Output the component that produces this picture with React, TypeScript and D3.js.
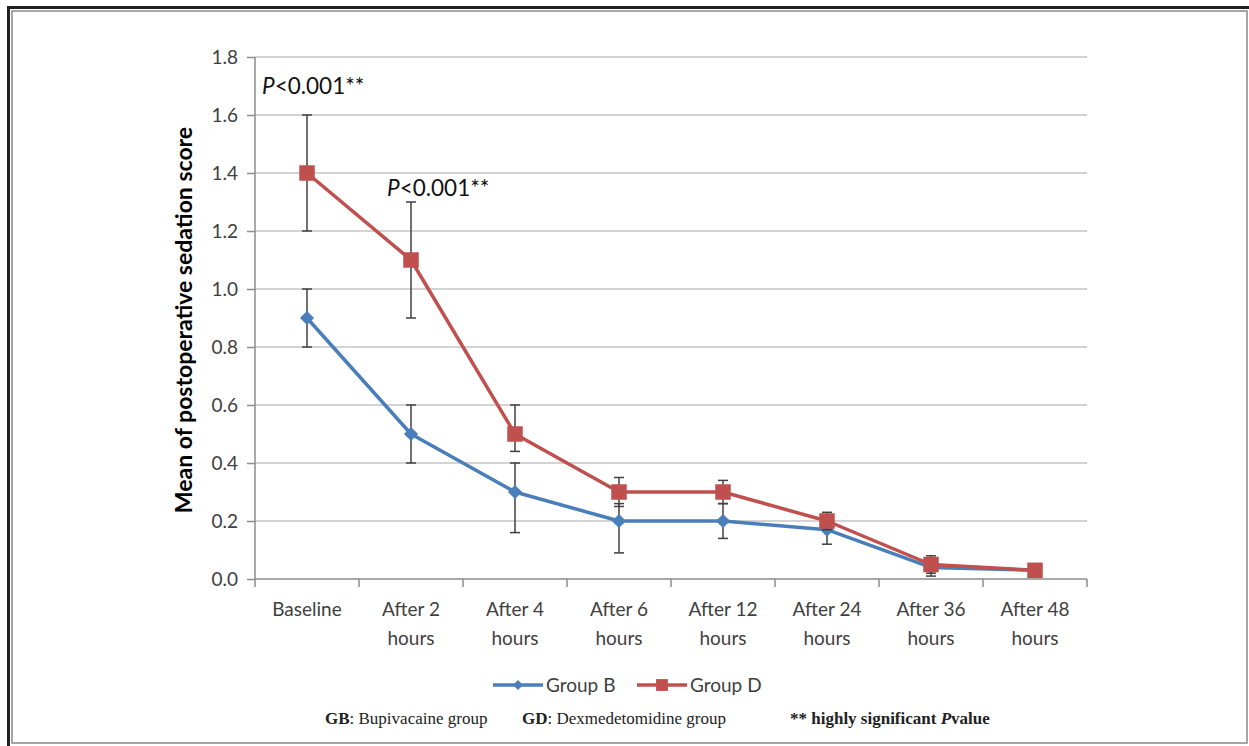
import { useEffect, useRef } from 'react';
import * as d3 from 'd3';

const categories = [
  ['Baseline'],
  ['After 2', 'hours'],
  ['After 4', 'hours'],
  ['After 6', 'hours'],
  ['After 12', 'hours'],
  ['After 24', 'hours'],
  ['After 36', 'hours'],
  ['After 48', 'hours'],
];

const groupB = [0.9, 0.5, 0.3, 0.2, 0.2, 0.17, 0.04, 0.03];
const groupBLow = [0.8, 0.4, 0.16, 0.09, 0.14, 0.12, 0.01, 0.03];
const groupBHigh = [1.0, 0.6, 0.4, 0.26, 0.26, 0.21, 0.07, 0.03];

const groupD = [1.4, 1.1, 0.5, 0.3, 0.3, 0.2, 0.05, 0.03];
const groupDLow = [1.2, 0.9, 0.44, 0.25, 0.26, 0.17, 0.02, 0.03];
const groupDHigh = [1.6, 1.3, 0.6, 0.35, 0.34, 0.23, 0.08, 0.03];

const yTicks = [0, 0.2, 0.4, 0.6, 0.8, 1.0, 1.2, 1.4, 1.6, 1.8];

const annotations = [
  { cat: 0, value: 1.7, text: '<0.001**' },
  { cat: 1, value: 1.35, text: '<0.001**' },
];

const BLUE = '#4a7ebb';
const RED = '#c0504d';
const FONT = 'Lato, "Open Sans", sans-serif';

const App = () => {
  const ref = useRef<HTMLDivElement>(null);

  useEffect(() => {
    d3.select(ref.current).selectAll('*').remove();

    const width = 1249; const height = 746;
    const left = 255; const right = 1087; const top = 57; const bottom = 579;

    const svg = d3.select(ref.current)
      .append('svg')
      .attr('width', width)
      .attr('height', height)
      .style('position', 'absolute')
      .style('left', '0px')
      .style('top', '0px')
      .style('background', '#fff');

    // frame
    svg.append('rect').attr('x', 8.5).attr('y', 7.5).attr('width', 1250).attr('height', 745)
      .attr('fill', 'none').attr('stroke', '#222').attr('stroke-width', 3);
    svg.append('rect').attr('x', 12).attr('y', 11).attr('width', 1235).attr('height', 732)
      .attr('fill', 'none').attr('stroke', '#888').attr('stroke-width', 1.5);

    const xBand = d3.scaleBand<number>()
      .domain(d3.range(categories.length))
      .range([left, right]);
    const x = (i: number) => (xBand(i) as number) + xBand.bandwidth() / 2;

    const y = d3.scaleLinear().domain([0, 1.8]).range([bottom, top]);

    // gridlines
    svg.append('g')
      .selectAll('line')
      .data(yTicks.filter(t => t > 0))
      .enter()
      .append('line')
      .attr('x1', left).attr('x2', right)
      .attr('y1', d => y(d)).attr('y2', d => y(d))
      .attr('stroke', '#c4c4c4').attr('stroke-width', 1.5);

    // y axis
    svg.append('g')
      .attr('transform', `translate(${left},0)`)
      .call(d3.axisLeft(y).tickValues(yTicks).tickSize(8).tickPadding(9).tickFormat(d3.format('.1f')))
      .call(g => g.selectAll('line, path').attr('stroke', '#8c8c8c').attr('stroke-width', 1.5))
      .call(g => g.select('.domain').attr('d', `M0,${top}V${bottom}`))
      .call(g => g.selectAll('text').attr('font-family', FONT).attr('font-size', 19).attr('fill', '#404040'));

    // x axis
    const boundaries = d3.range(categories.length + 1).map(i => left + i * xBand.bandwidth());
    svg.append('line').attr('x1', left).attr('x2', right).attr('y1', bottom).attr('y2', bottom)
      .attr('stroke', '#8c8c8c').attr('stroke-width', 1.5);
    svg.append('g').selectAll('line').data(boundaries).enter().append('line')
      .attr('x1', d => d).attr('x2', d => d).attr('y1', bottom).attr('y2', bottom + 8)
      .attr('stroke', '#8c8c8c').attr('stroke-width', 1.5);

    const labels = svg.append('g').selectAll('text').data(categories).enter().append('text')
      .attr('text-anchor', 'middle')
      .attr('font-family', FONT).attr('font-size', 19).attr('fill', '#404040');
    labels.each(function (d, i) {
      d.forEach((line, j) => {
        d3.select(this).append('tspan').attr('x', x(i)).attr('y', 616 + j * 29).text(line);
      });
    });

    // y title
    svg.append('text')
      .attr('transform', `translate(192,${(top + bottom) / 2 + 2}) rotate(-90)`)
      .attr('text-anchor', 'middle')
      .attr('font-family', FONT).attr('font-weight', 'bold').attr('font-size', 23).attr('fill', '#000')
      .text('Mean of postoperative sedation score');

    const diamond = (s: number) => d3.symbol().type(d3.symbolSquare).size(s)() + '';

    const drawSeries = (vals: number[], lo: number[], hi: number[], color: string, marker: 'diamond' | 'square') => {
      const g = svg.append('g');
      vals.forEach((v, i) => {
        if (hi[i] === lo[i]) return;
        g.append('line').attr('x1', x(i)).attr('x2', x(i)).attr('y1', y(lo[i])).attr('y2', y(hi[i]))
          .attr('stroke', '#404040').attr('stroke-width', 1.5);
        [lo[i], hi[i]].forEach(e => {
          g.append('line').attr('x1', x(i) - 5).attr('x2', x(i) + 5).attr('y1', y(e)).attr('y2', y(e))
            .attr('stroke', '#404040').attr('stroke-width', 1.5);
        });
      });
      const line = d3.line<number>().x((d, i) => x(i)).y(d => y(d));
      g.append('path').datum(vals).attr('d', line).attr('fill', 'none')
        .attr('stroke', color).attr('stroke-width', 3.5).attr('stroke-linejoin', 'round');
      g.selectAll('.m').data(vals).enter().append('path')
        .attr('transform', (d, i) => `translate(${x(i)},${y(d)})` + (marker === 'diamond' ? ' rotate(45)' : ''))
        .attr('d', marker === 'diamond' ? diamond(100) : diamond(240))
        .attr('fill', color);
    };

    drawSeries(groupB, groupBLow, groupBHigh, BLUE, 'diamond');
    drawSeries(groupD, groupDLow, groupDHigh, RED, 'square');

    // p-value annotations
    annotations.forEach(a => {
      const t = svg.append('text')
        .attr('x', a.cat === 0 ? left + 7 : x(a.cat) - 24)
        .attr('y', y(a.value) + 8)
        .attr('font-family', FONT).attr('font-size', 22.5).attr('fill', '#111');
      t.append('tspan').attr('font-style', 'italic').text('P');
      t.append('tspan').text(a.text);
    });

    // legend
    const legend = [
      { label: 'Group B', color: BLUE, marker: 'diamond', size: 50, x0: 493 },
      { label: 'Group D', color: RED, marker: 'square', size: 140, x0: 637 },
    ];
    legend.forEach(l => {
      svg.append('line').attr('x1', l.x0).attr('x2', l.x0 + 50).attr('y1', 685).attr('y2', 685)
        .attr('stroke', l.color).attr('stroke-width', 3.5);
      svg.append('path')
        .attr('transform', `translate(${l.x0 + 25},685)` + (l.marker === 'diamond' ? ' rotate(45)' : ''))
        .attr('d', diamond(l.size)).attr('fill', l.color);
      svg.append('text').attr('x', l.x0 + 53).attr('y', 692)
        .attr('font-family', FONT).attr('font-size', 19).attr('fill', '#404040').text(l.label);
    });

    // footnote
    const foot = svg.append('g').attr('font-family', '"Liberation Serif", "Times New Roman", serif')
      .attr('font-size', 17).attr('fill', '#222');
    const f1 = foot.append('text').attr('x', 325).attr('y', 724);
    f1.append('tspan').attr('font-weight', 'bold').text('GB');
    f1.append('tspan').text(': Bupivacaine group');
    const f2 = foot.append('text').attr('x', 522).attr('y', 724);
    f2.append('tspan').attr('font-weight', 'bold').text('GD');
    f2.append('tspan').text(': Dexmedetomidine group');
    const f3 = foot.append('text').attr('x', 790).attr('y', 724);
    f3.append('tspan').attr('font-weight', 'bold').text('** highly significant ');
    f3.append('tspan').attr('font-style', 'italic').attr('font-weight', 'bold').text('P');
    f3.append('tspan').attr('font-weight', 'bold').text('value');
  }, []);

  return <div ref={ref}></div>;
};

export default App;
